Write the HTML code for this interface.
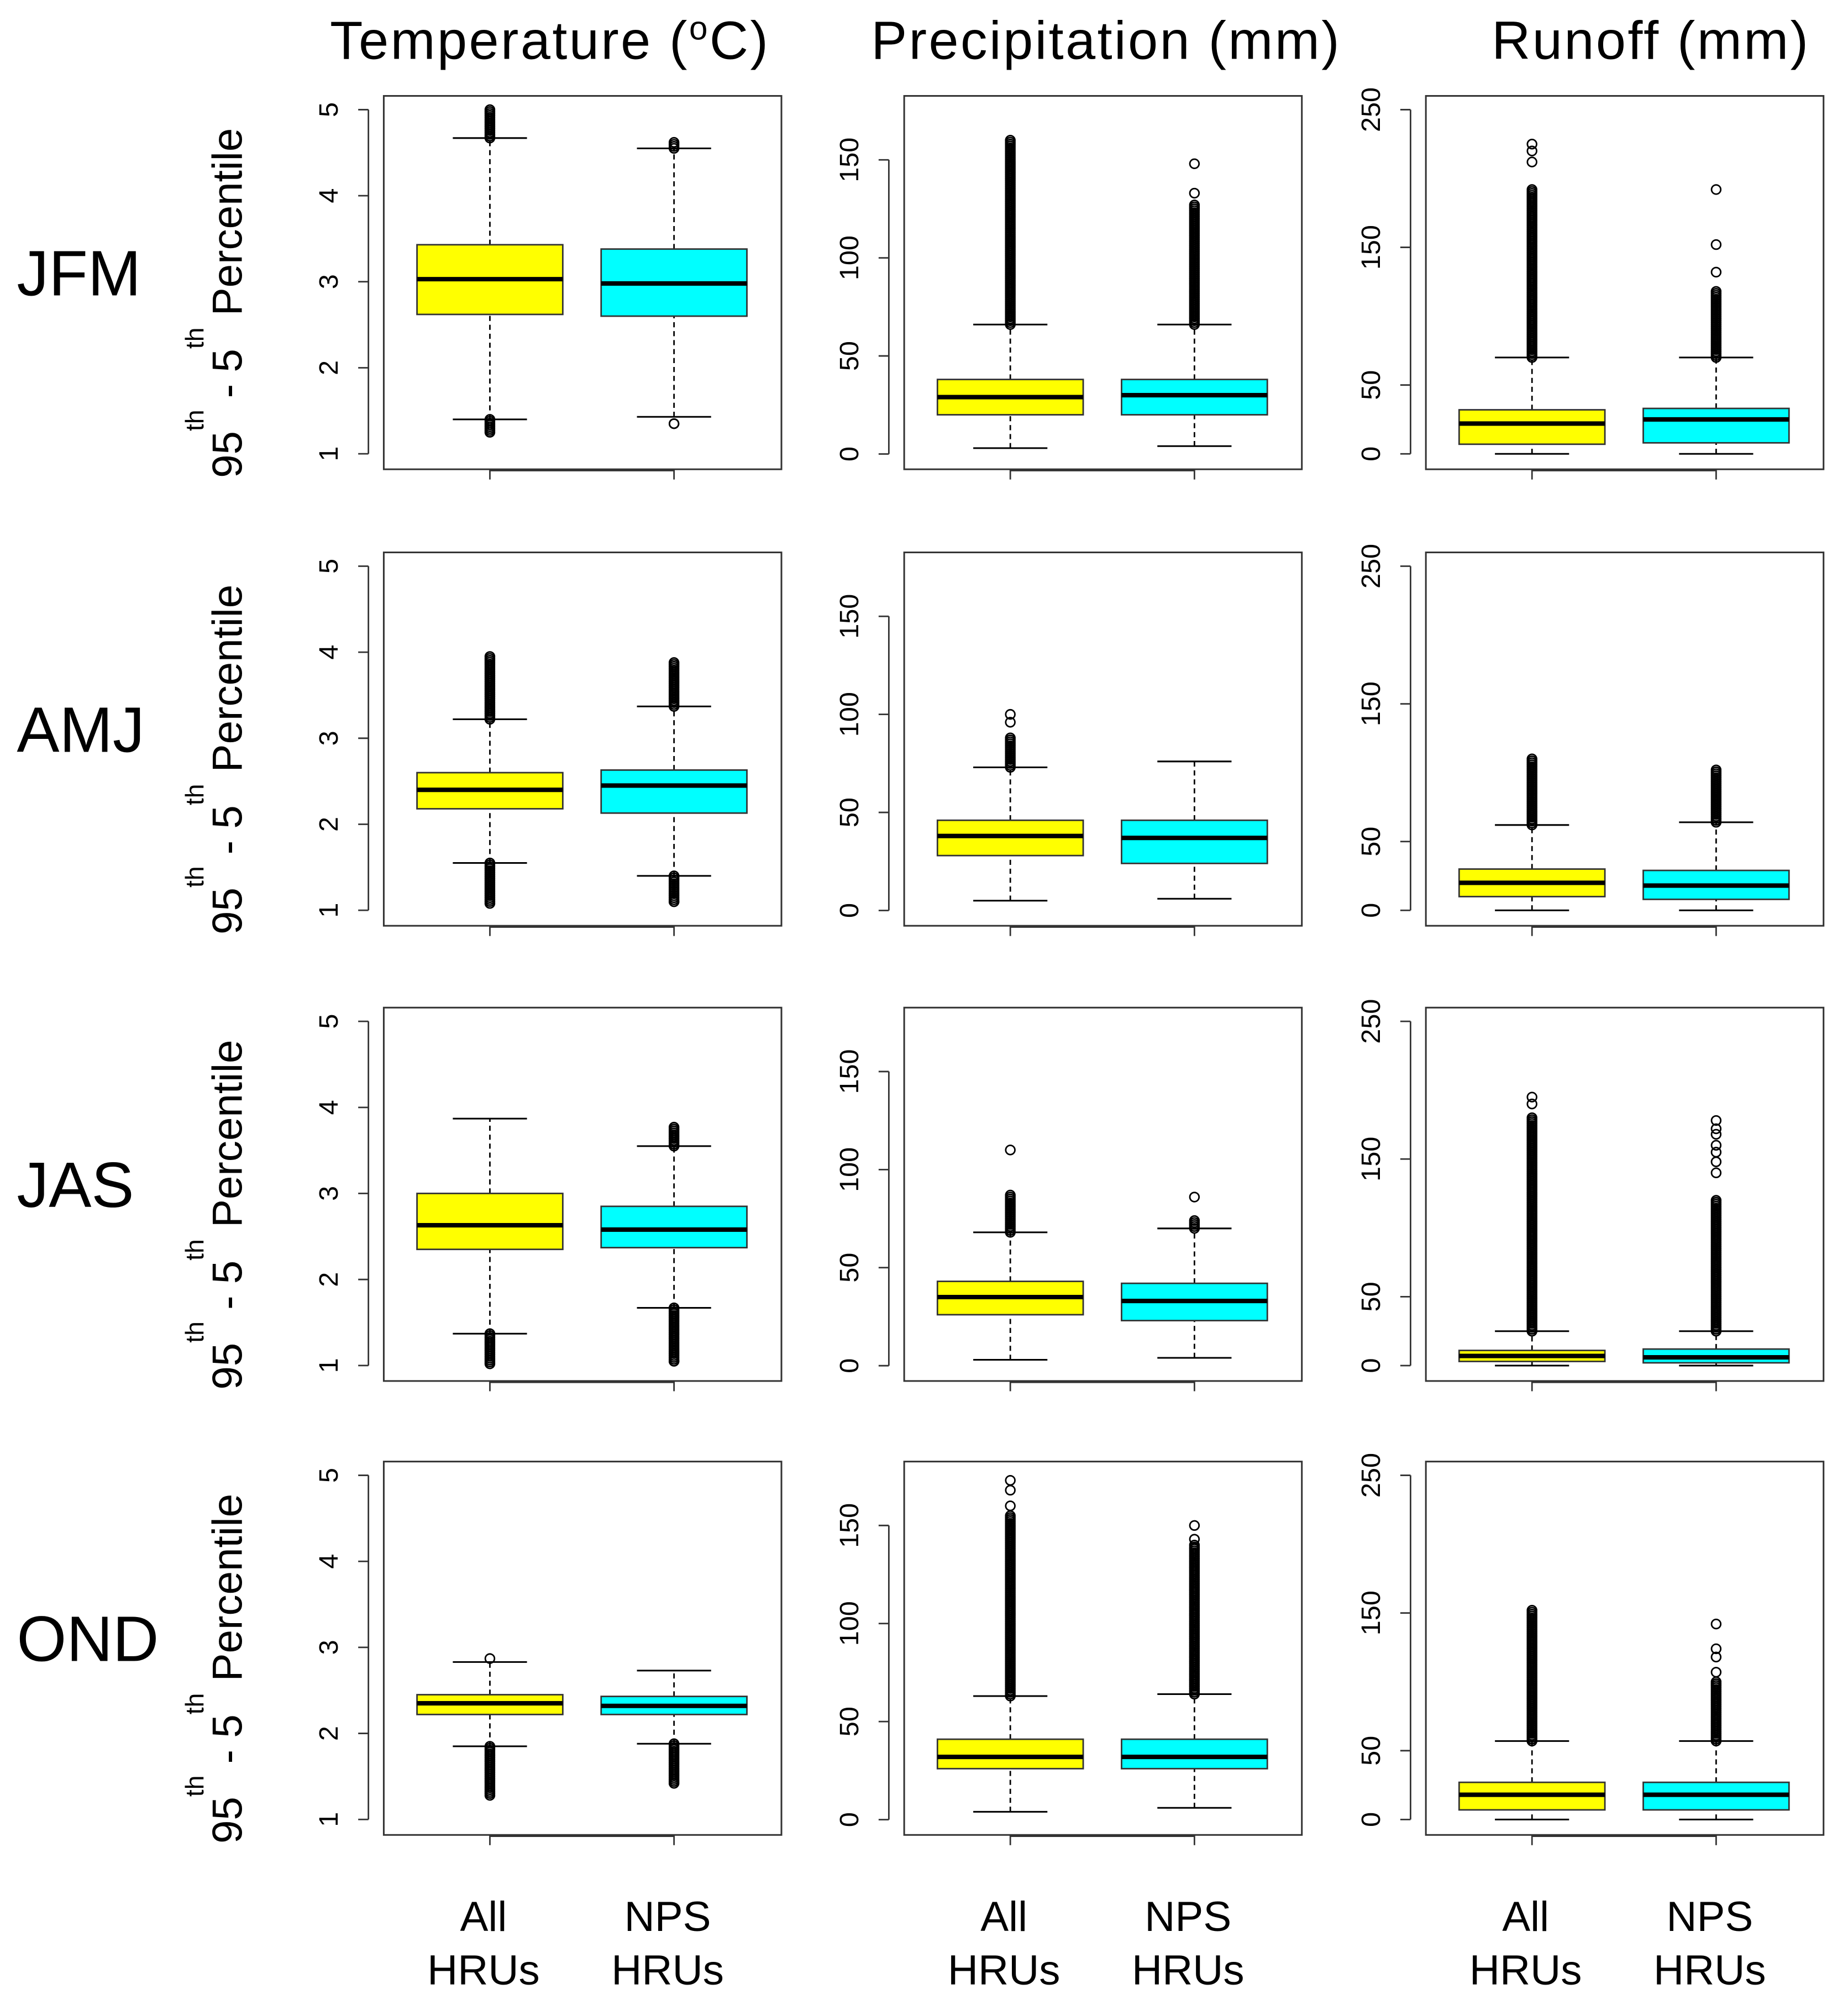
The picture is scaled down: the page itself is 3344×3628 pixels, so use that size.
<!DOCTYPE html>
<html><head><meta charset="utf-8"><style>
html,body{margin:0;padding:0;background:#fff}
svg{display:block}
text{font-family:"Liberation Sans",Arial,sans-serif;fill:#000}
</style></head><body>
<svg id="chart" width="3344" height="3628" viewBox="0 0 1445 1568" xmlns="http://www.w3.org/2000/svg">
<rect width="1445" height="1568" fill="#fff"/>
<g id="g"></g>
</svg>
<script>
// ---- data ----
const seasons = ["JFM","AMJ","JAS","OND"];
const variables = ["Temperature","Precipitation","Runoff"];
const groups = ["All HRUs","NPS HRUs"];
// box stats per season/variable/group: [lowWhisker, q1, median, q3, highWhisker]
const tempStats = [
 [[1.4,2.62,3.03,3.43,4.67],[1.43,2.6,2.98,3.38,4.55]],
 [[1.55,2.18,2.4,2.6,3.22],[1.4,2.13,2.45,2.63,3.37]],
 [[1.37,2.35,2.63,3.0,3.87],[1.67,2.37,2.58,2.85,3.55]],
 [[1.85,2.22,2.35,2.45,2.83],[1.88,2.22,2.32,2.43,2.73]]
];
const precipStats = [
 [[3,20,29,38,66],[4,20,30,38,66]],
 [[5,28,38,46,73],[6,24,37,46,76]],
 [[3,26,35,43,68],[4,23,33,42,70]],
 [[4,26,32,41,63],[6,26,32,41,64]]
];
const runoffStats = [
 [[0,7,22,32,70],[0,8,25,33,70]],
 [[0,10,20,30,62],[0,8,18,29,64]],
 [[0,3,7,11,25],[0,2,6,12,25]],
 [[0,7,18,27,57],[0,7,18,27,57]]
];
// outlier dense ranges [from,to] and isolated outlier values
const tempOutRanges = [
 [[[4.67,5.0],[1.25,1.4]],[[4.55,4.62],[1.35,1.35]]],
 [[[3.22,3.95],[1.08,1.55]],[[3.37,3.88],[1.1,1.4]]],
 [[[1.02,1.37]],[[3.55,3.77],[1.05,1.67]]],
 [[[1.28,1.85]],[[1.42,1.88]]]
];
const tempOutSingles = [[[],[]],[[],[1.1]],[[],[1.05]],[[2.87],[]]];
const precipOutRanges = [
 [[[66,160]],[[66,127]]],
 [[[73,88]],[]],
 [[[68,87]],[[70,74]]],
 [[[63,155]],[[64,140]]]
];
const precipOutSingles = [[[],[133,148]],[[96,100],[]],[[110],[86]],[[160,168,173],[143,150]]];
const runoffOutRanges = [
 [[[70,192]],[[70,118]]],
 [[[62,110]],[[64,102]]],
 [[[25,180]],[[25,120]]],
 [[[57,152]],[[57,100]]]
];
const runoffOutSingles = [[[212,220,225],[132,152,192]],[[],[]],[[190,195],[140,148,155,160,168,172,178]],[[],[107,118,124,142]]];
const tempTicks = [1,2,3,4,5];
const precipTicks = [0,50,100,150];
const runoffTicks = [0,50,150,250];
// ---- layout ----
const stats=[tempStats,precipStats,runoffStats];
const oR=[tempOutRanges,precipOutRanges,runoffOutRanges];
const oS=[tempOutSingles,precipOutSingles,runoffOutSingles];
const ticks=[tempTicks,precipTicks,runoffTicks];
const panelX=[300,707,1115], panelW=311;
const panelY=[75,432,788,1143], panelH=292;
const yRange=[[0.82,5.16],[-7.8,182.6],[-11.2,260]];
const centersOff=[83,227], colors=["#ffff00","#00ffff"];
const G=document.getElementById('g');
const NS="http://www.w3.org/2000/svg";
function el(tag,attrs,parent){const e=document.createElementNS(NS,tag);for(const k in attrs)e.setAttribute(k,attrs[k]);(parent||G).appendChild(e);return e;}
function txt(s,attrs,parent){const t=el('text',attrs,parent);t.textContent=s;return t;}
for(let r=0;r<4;r++){
 for(let c=0;c<3;c++){
  const px=panelX[c],py=panelY[r];
  const [lo,hi]=yRange[c];
  const Y=v=>py+panelH-(v-lo)/(hi-lo)*panelH;
  const pg=el('g',{});
  
  
  const fr=el('rect',{x:px,y:py,width:panelW,height:panelH,fill:'none',stroke:'#333','stroke-width':1.3},pg);
  
  
  const t=ticks[c];
  el('line',{x1:px-12,x2:px-12,y1:Y(t[0]),y2:Y(t[t.length-1]),stroke:'#333','stroke-width':1.2},pg);
  t.forEach(v=>{
   el('line',{x1:px-20,x2:px-12,y1:Y(v),y2:Y(v),stroke:'#333','stroke-width':1.2},pg);
   const lab=txt(String(v),{x:px-36,y:Y(v),'font-size':21,'text-anchor':'middle',transform:`rotate(-90 ${px-36} ${Y(v)})`,fill:'#333'},pg);
   
   
  });
  el('line',{x1:px+centersOff[0],x2:px+centersOff[1],y1:py+panelH+1,y2:py+panelH+1,stroke:'#333','stroke-width':1.2},pg);
  for(let k=0;k<2;k++){
   const cx=px+centersOff[k];
   el('line',{x1:cx,x2:cx,y1:py+panelH,y2:py+panelH+8,stroke:'#333','stroke-width':1.2},pg);
   const s=stats[c][r][k];
   const bg=el('g',{},pg);
   
   
   el('line',{x1:cx,x2:cx,y1:Y(s[0]),y2:Y(s[1]),stroke:'#000','stroke-width':1.2,'stroke-dasharray':'4,3'},bg);
   el('line',{x1:cx,x2:cx,y1:Y(s[3]),y2:Y(s[4]),stroke:'#000','stroke-width':1.2,'stroke-dasharray':'4,3'},bg);
   el('line',{x1:cx-29,x2:cx+29,y1:Y(s[0]),y2:Y(s[0]),stroke:'#000','stroke-width':1.3},bg);
   el('line',{x1:cx-29,x2:cx+29,y1:Y(s[4]),y2:Y(s[4]),stroke:'#000','stroke-width':1.3},bg);
   el('rect',{x:cx-57,y:Y(s[3]),width:114,height:Y(s[1])-Y(s[3]),fill:colors[k],stroke:'#333','stroke-width':1.2},bg);
   el('line',{x1:cx-57,x2:cx+57,y1:Y(s[2]),y2:Y(s[2]),stroke:'#000','stroke-width':3.5},bg);
   (oR[c][r][k]||[]).forEach(rg=>{
    const y1=Y(rg[0]),y2=Y(rg[1]);
    const n=Math.max(1,Math.round(Math.abs(y1-y2)/1.5));
    for(let i=0;i<=n;i++){
     el('circle',{cx:cx,cy:y1+(y2-y1)*i/n,r:3.6,fill:'none',stroke:'#000','stroke-width':1.2},bg);
    }
   });
   (oS[c][r][k]||[]).forEach(v=>{
    el('circle',{cx:cx,cy:Y(v),r:3.6,fill:'none',stroke:'#000','stroke-width':1.2},bg);
   });
  }
 }
 const rl=txt(seasons[r],{x:13,y:panelY[r]+156,'font-size':50},G);
 
 
 const cy=panelY[r]+162, tx=189;
 const yt=el('text',{x:tx,y:cy,'font-size':33,'text-anchor':'middle',transform:`rotate(-90 ${tx} ${cy})`},G);
 
 
 yt.setAttribute('xml:space','preserve');
 yt.innerHTML='95<tspan dy="-30" font-size="20">th</tspan><tspan dy="30">  -  5</tspan><tspan dy="-30" font-size="20">th</tspan><tspan dy="30">  Percentile</tspan>';
}
const titles=[['Temperature  (','o','C)'],['Precipitation (mm)'],['Runoff (mm)']];
const tcx=[430,865,1291];
titles.forEach((tt,i)=>{
 const t=el('text',{x:tcx[i],y:46,'font-size':42,'letter-spacing':1.5,'text-anchor':'middle'},G);
 
 
 t.setAttribute('xml:space','preserve');
 if(tt.length>1) t.innerHTML=tt[0]+'<tspan dy="-15" font-size="26">'+tt[1]+'</tspan><tspan dy="15">'+tt[2]+'</tspan>';
 else t.textContent=tt[0];
});
for(let c=0;c<3;c++){
 for(let k=0;k<2;k++){
  const cx=panelX[c]+centersOff[k]-5;
  const parts=groups[k].split(' ');
  const a=txt(parts[0],{x:cx,y:1510,'font-size':33,'text-anchor':'middle'},G);
  
  
  const b=txt(parts[1],{x:cx,y:1552,'font-size':33,'text-anchor':'middle'},G);
  
  
 }
}
</script>
</body></html>
